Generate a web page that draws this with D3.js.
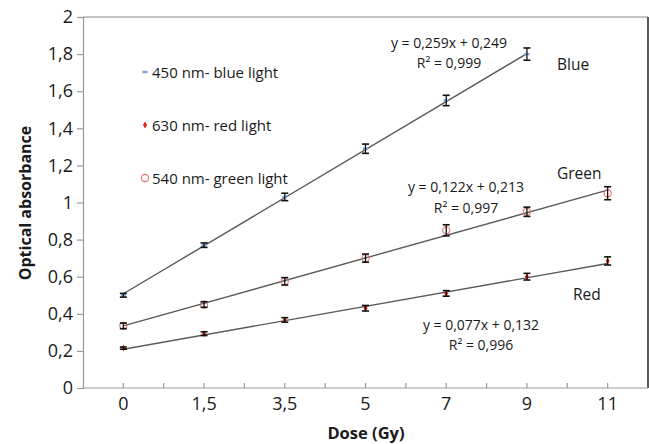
<!DOCTYPE html>
<html lang="en">
<head>
    <meta charset="UTF-8">
    <title>Optical absorbance vs dose</title>
    <script src="https://d3js.org/d3.v7.min.js"></script>
    <style>
        body { margin: 0; background: #fff; font-family: "Open Sans", Arial, sans-serif; }
        svg { display: block; }
    </style>
</head>
<body>
    <div id="chart"></div>

    <script>
        // doses as categories on the x axis
        const doses = ["0", "1,5", "3,5", "5", "7", "9", "11"];
        const yTicks = [0, 0.2, 0.4, 0.6, 0.8, 1, 1.2, 1.4, 1.6, 1.8, 2];

        // measured absorbance (blue has no point at 11 Gy)
        const blue = [0.50, 0.77, 1.03, 1.29, 1.55, 1.80];
        const blueErr = [0.01, 0.012, 0.02, 0.025, 0.028, 0.033];
        const green = [0.335, 0.45, 0.575, 0.70, 0.85, 0.95, 1.05];
        const greenErr = [0.015, 0.015, 0.02, 0.022, 0.03, 0.025, 0.035];
        const red = [0.215, 0.293, 0.367, 0.43, 0.51, 0.60, 0.685];
        const redErr = [0.006, 0.01, 0.012, 0.015, 0.015, 0.018, 0.022];

        // linear fits, x = point number (1..n)
        const slopes = [0.259, 0.122, 0.077];
        const intercepts = [0.249, 0.213, 0.132];
        const equations = ["y = 0,259x + 0,249", "y = 0,122x + 0,213", "y = 0,077x + 0,132"];
        const rSquared = ["R² = 0,999", "R² = 0,997", "R² = 0,996"];
        const seriesNames = ["Blue", "Green", "Red"];
        const legendLabels = ["450 nm- blue light", "630 nm- red light", "540 nm- green light"];

        const W = 649, H = 444;
        const plotL = 83, plotR = 648, plotT = 17, plotB = 388;

        const svg = d3.select("#chart").append("svg")
            .attr("width", W)
            .attr("height", H);

        const x = d3.scaleBand().domain(doses).range([plotL, plotR]).padding(0);
        const cx = i => x(doses[i]) + x.bandwidth() / 2;
        const y = d3.scaleLinear().domain([0, 2]).range([plotB, plotT]);
        const fmt = v => String(+v.toFixed(1)).replace(".", ",");

        // frame: top gray, right dark
        svg.append("line").attr("x1", plotL).attr("x2", plotR).attr("y1", plotT).attr("y2", plotT)
            .style("stroke", "#8a8a8a").style("stroke-width", 1.2);
        svg.append("line").attr("x1", plotR).attr("x2", plotR).attr("y1", plotT).attr("y2", plotB)
            .style("stroke", "#222").style("stroke-width", 1.5);

        // y axis
        const yAxis = svg.append("g")
            .attr("transform", `translate(${plotL},0)`)
            .call(d3.axisLeft(y).tickValues(yTicks).tickFormat(fmt).tickSize(6).tickPadding(4));
        yAxis.selectAll("path, line").style("stroke", "#999").style("stroke-width", 1.2);
        yAxis.selectAll("text").style("font-family", "Open Sans").style("font-size", "18px").style("fill", "#1a1a1a");

        // x axis line + inward ticks at band centers and band edges
        svg.append("line").attr("x1", plotL).attr("x2", plotR).attr("y1", plotB).attr("y2", plotB)
            .style("stroke", "#999").style("stroke-width", 1.2);
        const tickPos = [];
        doses.forEach((d, i) => {
            tickPos.push(cx(i));
            if (i > 0) tickPos.push(x(d));
        });
        svg.selectAll(".xtick").data(tickPos).enter().append("line")
            .attr("class", "xtick")
            .attr("x1", d => d).attr("x2", d => d)
            .attr("y1", plotB).attr("y2", plotB - 5)
            .style("stroke", "#999").style("stroke-width", 1.2);
        svg.selectAll(".xlab").data(doses).enter().append("text")
            .attr("class", "xlab")
            .attr("x", (d, i) => cx(i))
            .attr("y", 410)
            .attr("text-anchor", "middle")
            .style("font-size", "18px").style("fill", "#1a1a1a")
            .text(d => d);

        // axis titles
        svg.append("text")
            .attr("x", 366).attr("y", 439)
            .attr("text-anchor", "middle")
            .style("font-size", "16.5px").style("font-weight", "bold").style("fill", "#1a1a1a")
            .text("Dose (Gy)");
        svg.append("text")
            .attr("transform", "translate(31,203) rotate(-90)")
            .attr("text-anchor", "middle")
            .style("font-size", "16px").style("font-weight", "bold").style("fill", "#1a1a1a")
            .text("Optical absorbance");

        const series = [
            { vals: blue, err: blueErr },
            { vals: green, err: greenErr },
            { vals: red, err: redErr }
        ];

        // trend lines
        series.forEach((s, k) => {
            const n = s.vals.length;
            svg.append("line")
                .attr("x1", cx(0)).attr("y1", y(slopes[k] * 1 + intercepts[k]))
                .attr("x2", cx(n - 1)).attr("y2", y(slopes[k] * n + intercepts[k]))
                .style("stroke", "#5a5a5a").style("stroke-width", 1.4);
        });

        // markers
        function drawMarker(g, k, px, py) {
            if (k === 0) {
                g.append("rect").attr("x", px - 2.5).attr("y", py - 1.2).attr("width", 5).attr("height", 2.4)
                    .attr("fill", "#7aa6dc");
            } else if (k === 1) {
                g.append("circle").attr("cx", px).attr("cy", py).attr("r", 3.6)
                    .attr("fill", "none").attr("stroke", "#e07070").attr("stroke-width", 1.1);
            } else {
                g.append("path").attr("d", d3.symbol(d3.symbolDiamond, 14)())
                    .attr("transform", `translate(${px},${py})`)
                    .attr("fill", "#e8200c");
            }
        }

        series.forEach((s, k) => {
            const g = svg.append("g");
            s.vals.forEach((v, i) => drawMarker(g, k, cx(i), y(v)));
            // error bars
            s.vals.forEach((v, i) => {
                const px = cx(i), y0 = y(v - s.err[i]), y1 = y(v + s.err[i]);
                g.append("line").attr("x1", px).attr("x2", px).attr("y1", y0).attr("y2", y1)
                    .style("stroke", "#111").style("stroke-width", 1.3);
                [y0, y1].forEach(yy => g.append("line")
                    .attr("x1", px - 3.5).attr("x2", px + 3.5).attr("y1", yy).attr("y2", yy)
                    .style("stroke", "#111").style("stroke-width", 1.6));
            });
        });

        // legend (blue, red, green order as in the picture)
        const legendOrder = [0, 2, 1];
        const legendY = [72, 125, 178];
        legendOrder.forEach((k, j) => {
            const g = svg.append("g");
            drawMarker(g, k, 145, legendY[j]);
            g.append("text")
                .attr("x", 152).attr("y", legendY[j] + 5.5)
                .style("font-size", "15px").style("fill", "#1a1a1a")
                .text(legendLabels[j]);
        });

        // equations and series names
        const eqPos = [[449, 48, 68], [466, 192, 213], [481, 330, 350]];
        equations.forEach((e, k) => {
            svg.append("text").attr("x", eqPos[k][0]).attr("y", eqPos[k][1])
                .attr("text-anchor", "middle")
                .style("font-size", "14px").style("fill", "#1a1a1a").text(e);
            svg.append("text").attr("x", eqPos[k][0]).attr("y", eqPos[k][2])
                .attr("text-anchor", "middle")
                .style("font-size", "14px").style("fill", "#1a1a1a").text(rSquared[k]);
        });
        const namePos = [[557, 70], [557, 179], [573, 300]];
        seriesNames.forEach((nm, k) => {
            svg.append("text").attr("x", namePos[k][0]).attr("y", namePos[k][1])
                .style("font-size", "15.5px").style("fill", "#1a1a1a").text(nm);
        });
    </script>
</body>
</html>
